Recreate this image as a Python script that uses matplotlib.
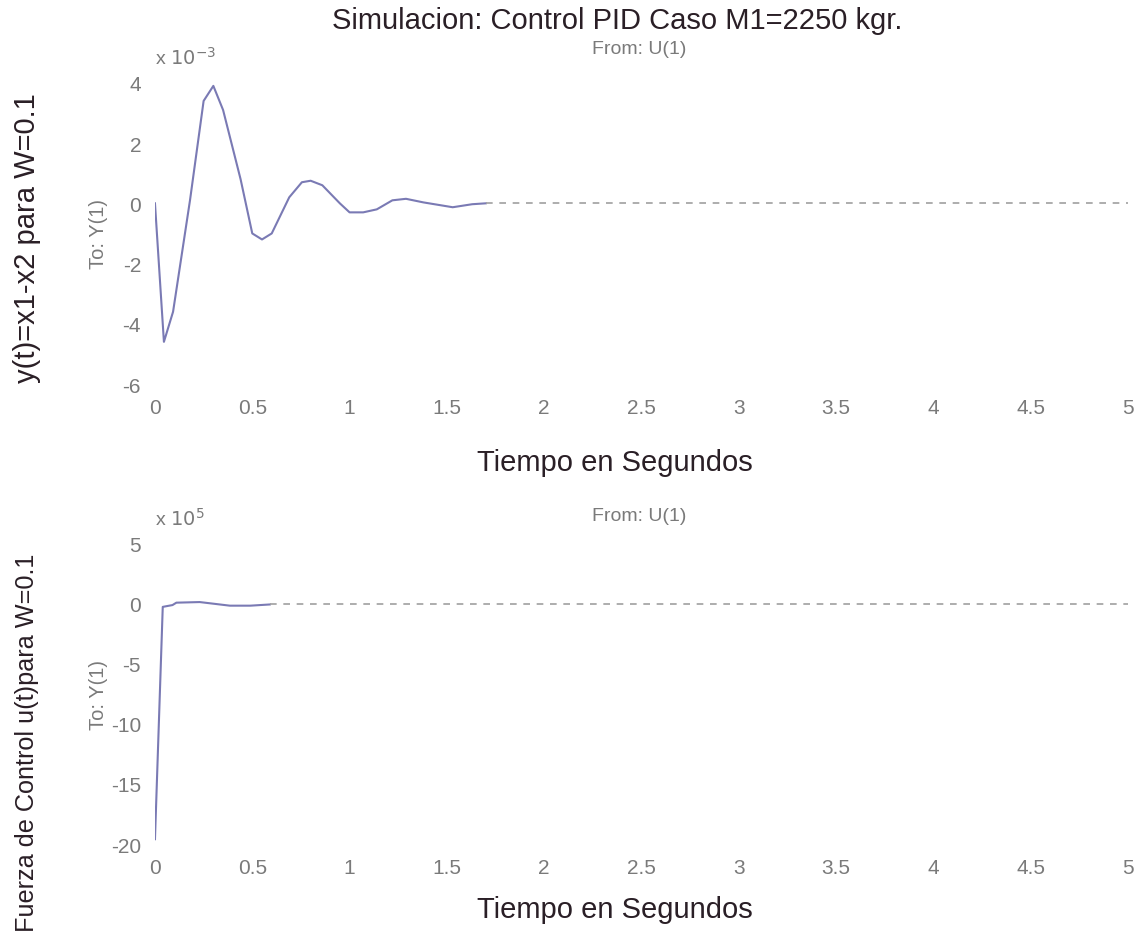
import matplotlib.pyplot as plt

# respuesta y(t)=x1-x2 (x 1e-3)
t_y = [0, 0.046, 0.093, 0.18, 0.25, 0.30, 0.35, 0.44, 0.50, 0.55, 0.60, 0.69, 0.755, 0.80,
       0.86, 0.95, 1.0, 1.07, 1.14, 1.22, 1.29, 1.38, 1.53, 1.63, 1.7]
y_val = [0, -4.6, -3.6, 0.1, 3.4, 3.9, 3.1, 0.8, -1.0, -1.2, -1.0, 0.2, 0.7, 0.75,
         0.6, 0.0, -0.3, -0.3, -0.2, 0.1, 0.15, 0.03, -0.13, -0.03, 0.0]
t_y_tail = [1.7, 5.0]
y_tail = [0.0, 0.0]

# fuerza de control u(t) (x 1e5)
t_u = [0, 0.04, 0.09, 0.11, 0.23, 0.385, 0.49, 0.59]
u_val = [-19.6, -0.25, -0.1, 0.1, 0.15, -0.15, -0.15, -0.05]
t_u_tail = [0.59, 5.0]
u_tail = [-0.05, -0.05]

xticks = [0, 0.5, 1, 1.5, 2, 2.5, 3, 3.5, 4, 4.5, 5]
xticklabels = ['0', '0.5', '1', '1.5', '2', '2.5', '3', '3.5', '4', '4.5', '5']

plt.rcParams['font.family'] = ['Liberation Sans', 'DejaVu Sans']
plt.rcParams['axes.unicode_minus'] = False

line_c = '#7a7ab4'
tail_c = '#a0a0a0'
tick_c = '#7a7a7a'
text_c = '#2a1f26'

fig = plt.figure(figsize=(11.42, 9.53), dpi=100)
ax1 = fig.add_axes([0.1357, 0.596, 0.852, 0.316])
ax2 = fig.add_axes([0.1357, 0.1133, 0.852, 0.315])


def style(ax, yticks, ylim, expo, from_y, xlab_y):
    ax.set_xlim(0, 5)
    ax.set_ylim(*ylim)
    for s in ax.spines.values():
        s.set_visible(False)
    ax.set_xticks(xticks)
    ax.set_xticklabels(xticklabels)
    ax.set_yticks(yticks)
    ax.tick_params(length=0, labelsize=15, labelcolor=tick_c, pad=10)
    ax.text(0.0, 1.05, 'x $10^{%s}$' % expo, transform=ax.transAxes, fontsize=14,
            color=tick_c, ha='left', va='bottom')
    ax.text(0.498, from_y, 'From: U(1)', transform=ax.transAxes, fontsize=14,
            color=tick_c, ha='center', va='center')
    ax.text(-0.058, 0.5, 'To: Y(1)', transform=ax.transAxes, fontsize=14.5,
            color=tick_c, ha='center', va='center', rotation=90)
    ax.text(0.473, xlab_y, 'Tiempo en Segundos', transform=ax.transAxes, fontsize=21,
            color=text_c, ha='center', va='center')


ax1.plot(t_y, y_val, color=line_c, lw=1.5)
ax1.plot(t_y_tail, y_tail, color=tail_c, lw=1.2, ls=(0, (4, 4)))
style(ax1, [-6, -4, -2, 0, 2, 4], (-6, 4), '-3', 1.115, -0.26)

ax2.plot(t_u, u_val, color=line_c, lw=1.5)
ax2.plot(t_u_tail, u_tail, color=tail_c, lw=1.2, ls=(0, (4, 4)))
style(ax2, [-20, -15, -10, -5, 0, 5], (-20, 5), '5', 1.093, -0.217)

fig.text(617 / 1142, 1 - 21 / 953, 'Simulacion: Control PID Caso M1=2250 kgr.', fontsize=21,
         color=text_c, ha='center', va='center')
fig.text(0.024, 0.750, 'y(t)=x1-x2 para W=0.1', rotation=90, fontsize=21,
         color=text_c, ha='center', va='center')
fig.text(0.024, 0.221, 'Fuerza de Control u(t)para W=0.1', rotation=90, fontsize=18.2,
         color=text_c, ha='center', va='center')

fig.savefig('out.png', dpi=100)
